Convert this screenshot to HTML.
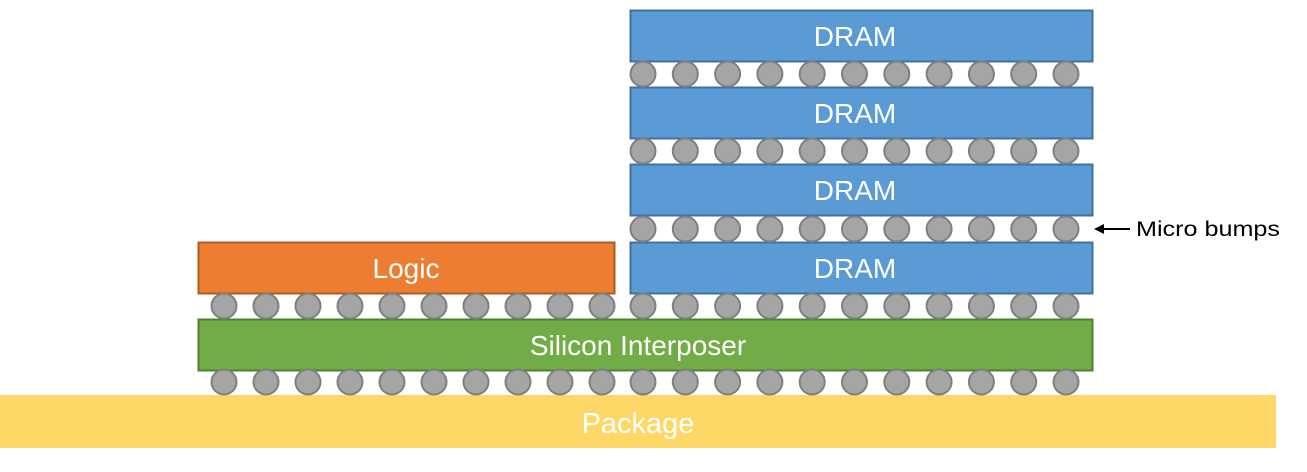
<!DOCTYPE html>
<html><head><style>body{margin:0;background:#fff}</style></head><body>
<svg width="1307" height="467" xmlns="http://www.w3.org/2000/svg" xmlns:xlink="http://www.w3.org/1999/xlink" font-family="Liberation Sans, sans-serif">
<defs>
<g id="r" fill="#a5a5a5" stroke="#7f7f7f" stroke-width="2">
<circle cx="643" cy="0" r="12.5"/><circle cx="685.3" cy="0" r="12.5"/><circle cx="727.6" cy="0" r="12.5"/><circle cx="769.9" cy="0" r="12.5"/><circle cx="812.2" cy="0" r="12.5"/><circle cx="854.5" cy="0" r="12.5"/><circle cx="896.8" cy="0" r="12.5"/><circle cx="939.1" cy="0" r="12.5"/><circle cx="981.4" cy="0" r="12.5"/><circle cx="1023.7" cy="0" r="12.5"/><circle cx="1066" cy="0" r="12.5"/>
</g>
<g id="l" fill="#a5a5a5" stroke="#7f7f7f" stroke-width="2">
<circle cx="224" cy="0" r="12.5"/><circle cx="266" cy="0" r="12.5"/><circle cx="308" cy="0" r="12.5"/><circle cx="350" cy="0" r="12.5"/><circle cx="392" cy="0" r="12.5"/><circle cx="434" cy="0" r="12.5"/><circle cx="476" cy="0" r="12.5"/><circle cx="518" cy="0" r="12.5"/><circle cx="560" cy="0" r="12.5"/><circle cx="602" cy="0" r="12.5"/>
</g>
</defs>
<rect x="0" y="395" width="1276" height="53" fill="#fdd866"/>
<text x="638" y="433" fill="#fff" font-size="29" text-anchor="middle">Package</text>
<rect x="198.5" y="319.5" width="894" height="51" fill="#70ad47" stroke="#507e32" stroke-width="2"/>
<text x="638" y="355" fill="#fff" font-size="28" text-anchor="middle">Silicon Interposer</text>
<rect x="198.5" y="242.5" width="416" height="51" fill="#ed7d31" stroke="#ae5a21" stroke-width="2"/>
<text x="406" y="278" fill="#fff" font-size="28" text-anchor="middle">Logic</text>
<g fill="#5b9bd5" stroke="#41719c" stroke-width="2">
<rect x="630.5" y="10.5" width="462" height="51"/>
<rect x="630.5" y="87.5" width="462" height="51"/>
<rect x="630.5" y="164.5" width="462" height="51"/>
<rect x="630.5" y="242.5" width="462" height="51"/>
</g>
<g fill="#fff" font-size="28" text-anchor="middle">
<text x="855" y="46">DRAM</text><text x="855" y="123">DRAM</text><text x="855" y="200">DRAM</text><text x="855" y="278">DRAM</text>
</g>
<use xlink:href="#r" href="#r" transform="translate(0,74)"/>
<use xlink:href="#r" href="#r" transform="translate(0,151)"/>
<use xlink:href="#r" href="#r" transform="translate(0,229)"/>
<use xlink:href="#r" href="#r" transform="translate(0,306)"/>
<use xlink:href="#r" href="#r" transform="translate(0,382)"/>
<use xlink:href="#l" href="#l" transform="translate(0,306)"/>
<use xlink:href="#l" href="#l" transform="translate(0,382)"/>
<line x1="1130" y1="229" x2="1102" y2="229" stroke="#000" stroke-width="2"/>
<polygon points="1094,229 1104,224 1104,234" fill="#000"/>
<text x="1136" y="236" font-size="21" fill="#000" textLength="144" lengthAdjust="spacingAndGlyphs">Micro bumps</text>
</svg>
</body></html>
